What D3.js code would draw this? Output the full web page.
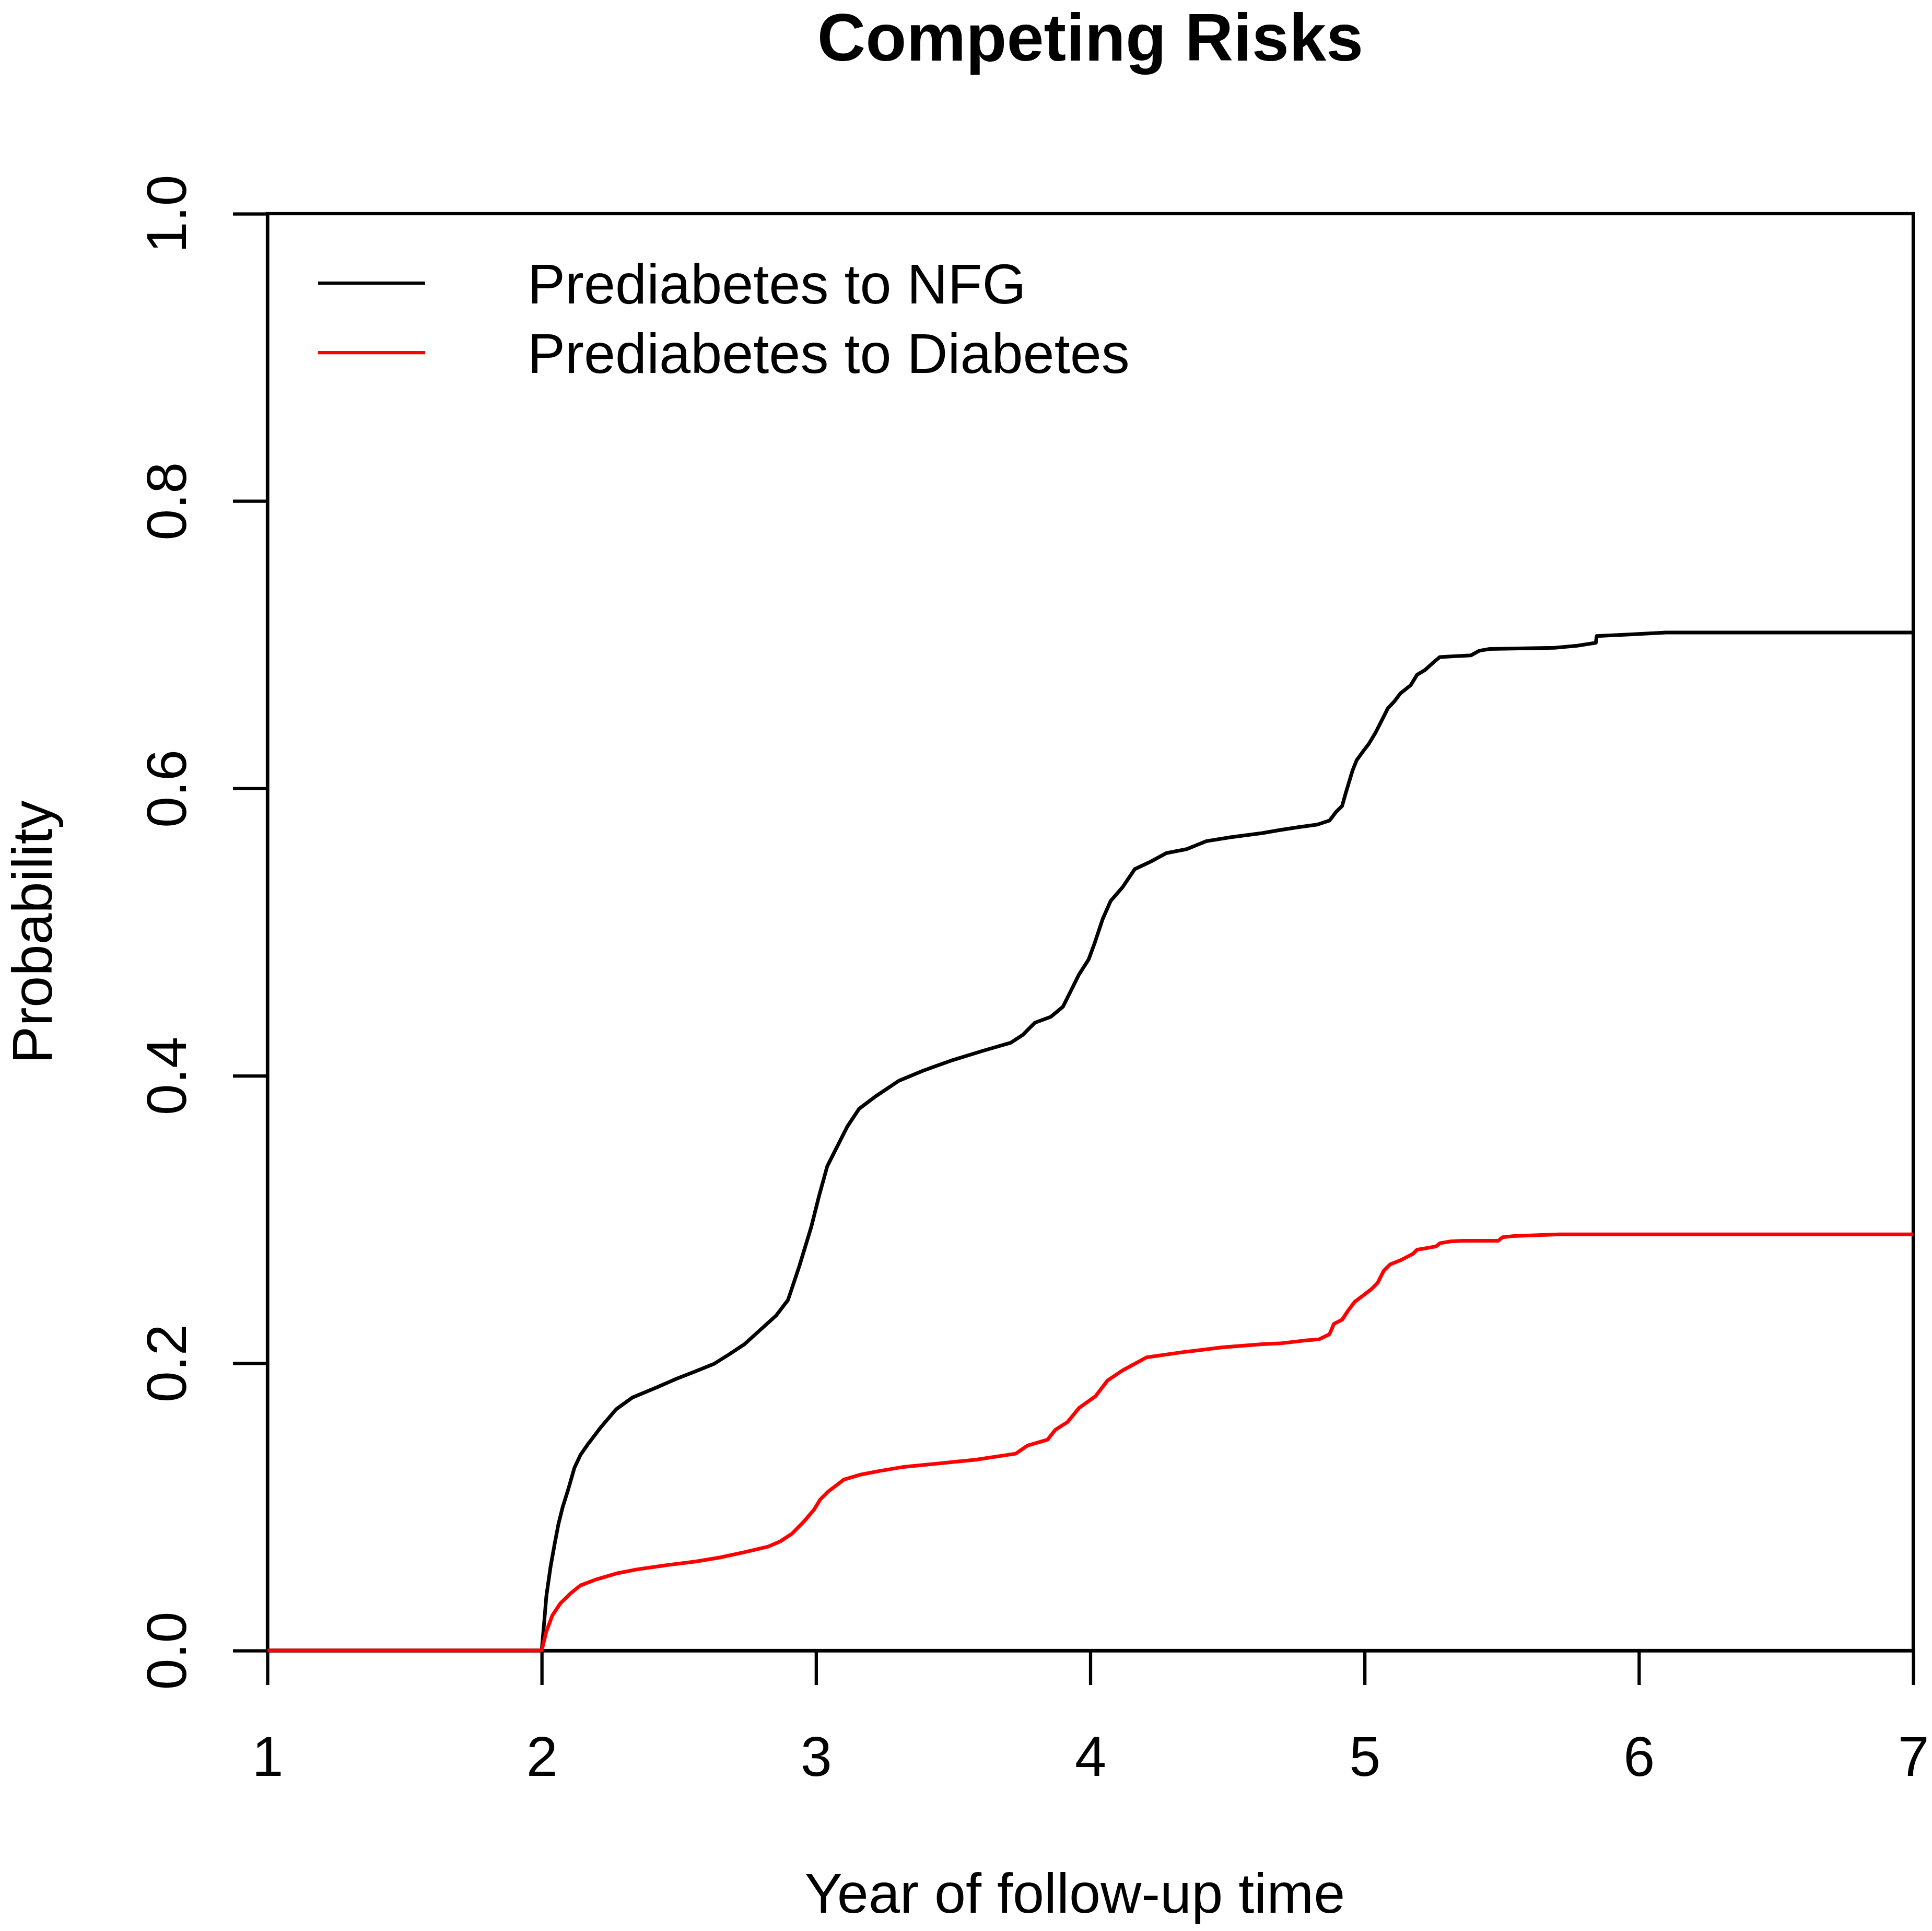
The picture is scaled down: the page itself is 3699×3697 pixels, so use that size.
<!DOCTYPE html>
<html>
<head>
<meta charset="utf-8">
<script src="https://cdn.jsdelivr.net/npm/d3@7"></script>
<style>
  body { margin: 0; background: #fff; }
  text { font-family: "Liberation Sans", Arial, Helvetica, sans-serif; fill: #000; }
</style>
</head>
<body>
<svg id="chart"></svg>
<script>
// cumulative incidence
var nfgTime = [1, 2, 2.01, 2.017, 2.032, 2.047, 2.061, 2.076, 2.098, 2.119, 2.141, 2.17, 2.214, 2.272, 2.33,
  2.418, 2.49, 2.563, 2.629, 2.68, 2.738, 2.796, 2.854, 2.898, 2.939, 2.983, 3.012, 3.041, 3.07, 3.114,
  3.157, 3.216, 3.303, 3.39, 3.492, 3.609, 3.71, 3.754, 3.798, 3.856, 3.9, 3.929, 3.958, 3.994, 4.016,
  4.045, 4.074, 4.118, 4.162, 4.22, 4.278, 4.351, 4.424, 4.511, 4.627, 4.69, 4.758, 4.827, 4.872, 4.895,
  4.918, 4.933, 4.956, 4.971, 4.993, 5.016, 5.039, 5.062, 5.085, 5.107, 5.13, 5.168, 5.191, 5.221, 5.251,
  5.274, 5.388, 5.418, 5.456, 5.692, 5.775, 5.843, 5.846, 5.965, 6.098, 7];
var nfgProb = [0, 0, 0.022, 0.038, 0.058, 0.074, 0.088, 0.0995, 0.113, 0.127, 0.136, 0.144, 0.155, 0.168, 0.176,
  0.183, 0.189, 0.1945, 0.1996, 0.2057, 0.213, 0.223, 0.233, 0.244, 0.2674, 0.295, 0.317, 0.337, 0.348, 0.3646,
  0.377, 0.3855, 0.3966, 0.4035, 0.4105, 0.4174, 0.423, 0.4285, 0.4369, 0.441, 0.448, 0.459, 0.4702, 0.481, 0.4924,
  0.509, 0.5216, 0.5313, 0.5438, 0.549, 0.555, 0.5577, 0.5633, 0.566, 0.5689, 0.571, 0.573, 0.5748, 0.5776, 0.5834,
  0.5878, 0.5979, 0.6124, 0.6196, 0.6254, 0.6312, 0.6385, 0.6471, 0.6558, 0.6602, 0.666, 0.6718, 0.679, 0.6825, 0.6877,
  0.6914, 0.6926, 0.6958, 0.697, 0.6978, 0.6993, 0.7013, 0.706, 0.7071, 0.7085, 0.7085];

var diabTime = [1, 2, 2.017, 2.039, 2.068, 2.105, 2.141, 2.199, 2.272, 2.345, 2.447, 2.563, 2.651, 2.738, 2.825,
  2.869, 2.913, 2.956, 2.993, 3.015, 3.044, 3.073, 3.102, 3.16, 3.233, 3.32, 3.437, 3.582, 3.728, 3.771,
  3.844, 3.873, 3.917, 3.96, 4.019, 4.063, 4.118, 4.205, 4.336, 4.482, 4.627, 4.69, 4.78, 4.834, 4.872,
  4.888, 4.918, 4.941, 4.964, 4.994, 5.024, 5.047, 5.07, 5.093, 5.131, 5.176, 5.191, 5.26, 5.275, 5.313,
  5.358, 5.487, 5.503, 5.541, 5.711, 7];
var diabProb = [0, 0, 0.0133, 0.0245, 0.0328, 0.0397, 0.0453, 0.0495, 0.0536, 0.0564, 0.0592, 0.062, 0.0648, 0.0684, 0.0723,
  0.0759, 0.0814, 0.0898, 0.0981, 0.105, 0.1106, 0.1148, 0.119, 0.1223, 0.125, 0.1278, 0.13, 0.1328, 0.137, 0.1426,
  0.1467, 0.1537, 0.159, 0.169, 0.177, 0.188, 0.195, 0.204, 0.2076, 0.211, 0.2132, 0.2137, 0.2157, 0.2166, 0.2201,
  0.2273, 0.2302, 0.2369, 0.2427, 0.247, 0.2514, 0.2557, 0.2644, 0.2687, 0.2716, 0.276, 0.2789, 0.2812, 0.2835, 0.2847,
  0.2852, 0.2852, 0.2876, 0.2884, 0.2896, 0.2896];

var xTicks = [1, 2, 3, 4, 5, 6, 7];
var yTicks = [0, 0.2, 0.4, 0.6, 0.8, 1.0];
var seriesNames = ["Prediabetes to NFG", "Prediabetes to Diabetes"];
var seriesColors = ["#000000", "#ff0000"];

var W = 3699, H = 3697;
var margin = {top: 409, right: 36, bottom: 537, left: 512},
    width = W - margin.left - margin.right,
    height = H - margin.top - margin.bottom;
var lw = 6.25, fs = 108;

var svg = d3.select("#chart")
    .attr("width", W)
    .attr("height", H)
  .append("g")
    .attr("transform", "translate(" + margin.left + "," + margin.top + ")");

var x = d3.scaleLinear().domain([1, 7]).range([0, width]);
var y = d3.scaleLinear().domain([0, 1]).range([height, 0]);

// box
svg.append("rect")
    .attr("width", width)
    .attr("height", height)
    .style("fill", "none")
    .style("stroke", "#000")
    .style("stroke-width", lw);

var xAxis = svg.append("g")
    .attr("transform", "translate(0," + height + ")")
    .call(d3.axisBottom(x).tickValues(xTicks).tickSize(66).tickSizeOuter(0).tickFormat(d3.format("d")));
xAxis.selectAll("text")
    .attr("y", 240)
    .attr("dy", null)
    .style("font-size", fs + "px");

var yAxis = svg.append("g")
    .call(d3.axisLeft(y).tickValues(yTicks).tickSize(66).tickSizeOuter(0).tickFormat(d3.format(".1f")));
yAxis.selectAll("text")
    .attr("x", null)
    .attr("dy", null)
    .attr("transform", "translate(-156,0) rotate(-90)")
    .style("text-anchor", "middle")
    .style("font-size", fs + "px");

svg.selectAll(".domain, .tick line")
    .style("stroke", "#000")
    .style("stroke-width", lw);

var line = d3.line()
    .x(function(d) { return x(d[0]); })
    .y(function(d) { return y(d[1]); });

var curves = [d3.zip(nfgTime, nfgProb), d3.zip(diabTime, diabProb)];
svg.selectAll(".curve")
    .data(curves)
  .enter()
  .append("path")
    .attr("class", "curve")
    .attr("d", line)
    .style("fill", "none")
    .style("stroke", function(d, i) { return seriesColors[i]; })
    .style("stroke-width", 7)
    .style("stroke-linejoin", "round");

// legend
var legend = svg.selectAll(".legend")
    .data(seriesNames)
  .enter()
  .append("g")
    .attr("class", "legend")
    .attr("transform", function(d, i) { return "translate(0," + (133 + i * 133) + ")"; });
legend.append("line")
    .attr("x1", 97)
    .attr("x2", 302)
    .attr("y1", 0)
    .attr("y2", 0)
    .style("stroke", function(d, i) { return seriesColors[i]; })
    .style("stroke-width", lw);
legend.append("text")
    .attr("x", 498)
    .attr("y", 0)
    .attr("dy", "0.36em")
    .style("font-size", fs + "px")
    .text(function(d) { return d; });

// titles
svg.append("text")
    .attr("x", width / 2)
    .attr("y", 116 - margin.top)
    .style("text-anchor", "middle")
    .style("font-size", "128px")
    .style("font-weight", "bold")
    .text("Competing Risks");

svg.append("text")
    .attr("x", 2058 - margin.left)
    .attr("y", height + 502)
    .style("text-anchor", "middle")
    .style("font-size", fs + "px")
    .text("Year of follow-up time");

svg.append("text")
    .attr("transform", "translate(" + (99 - margin.left) + "," + (height / 2) + ") rotate(-90)")
    .style("text-anchor", "middle")
    .style("font-size", fs + "px")
    .text("Probability");
</script>
</body>
</html>
